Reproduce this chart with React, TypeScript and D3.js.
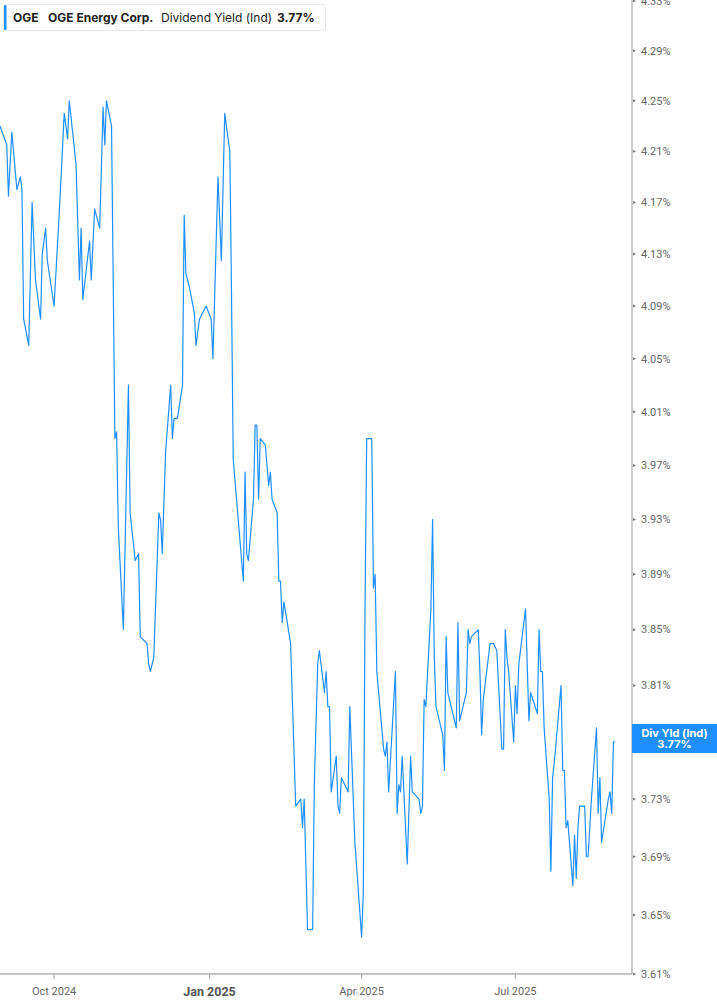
import { useEffect } from "react";
import * as d3 from "d3";

// daily-ish dividend yield readings
const dates = [
  "2024-08-30", "2024-09-03", "2024-09-04", "2024-09-06", "2024-09-09", "2024-09-11", "2024-09-12", "2024-09-13",
  "2024-09-16", "2024-09-18", "2024-09-20", "2024-09-23", "2024-09-24", "2024-09-26", "2024-09-27", "2024-10-01",
  "2024-10-04", "2024-10-07", "2024-10-09", "2024-10-10", "2024-10-14", "2024-10-16", "2024-10-17", "2024-10-18",
  "2024-10-22", "2024-10-23", "2024-10-25", "2024-10-28", "2024-10-30", "2024-10-31", "2024-11-01", "2024-11-04",
  "2024-11-06", "2024-11-07", "2024-11-08", "2024-11-11", "2024-11-14", "2024-11-15", "2024-11-18", "2024-11-20",
  "2024-11-21", "2024-11-25", "2024-11-26", "2024-11-27", "2024-11-29", "2024-12-02", "2024-12-03", "2024-12-04",
  "2024-12-06", "2024-12-09", "2024-12-10", "2024-12-11", "2024-12-13", "2024-12-16", "2024-12-17", "2024-12-18",
  "2024-12-20", "2024-12-23", "2024-12-24", "2024-12-26", "2024-12-30", "2025-01-02", "2025-01-03", "2025-01-06",
  "2025-01-08", "2025-01-10", "2025-01-13", "2025-01-14", "2025-01-15", "2025-01-21", "2025-01-22", "2025-01-23",
  "2025-01-24", "2025-01-27", "2025-01-28", "2025-01-29", "2025-01-30", "2025-01-31", "2025-02-03", "2025-02-05",
  "2025-02-06", "2025-02-07", "2025-02-10", "2025-02-11", "2025-02-12", "2025-02-13", "2025-02-14", "2025-02-18",
  "2025-02-19", "2025-02-21", "2025-02-24", "2025-02-25", "2025-02-26", "2025-02-28", "2025-03-03", "2025-03-04",
  "2025-03-06", "2025-03-07", "2025-03-10", "2025-03-11", "2025-03-12", "2025-03-13", "2025-03-14", "2025-03-17",
  "2025-03-18", "2025-03-19", "2025-03-20", "2025-03-24", "2025-03-25", "2025-03-28", "2025-04-01", "2025-04-02",
  "2025-04-03", "2025-04-04", "2025-04-07", "2025-04-08", "2025-04-09", "2025-04-10", "2025-04-14", "2025-04-15",
  "2025-04-16", "2025-04-17", "2025-04-21", "2025-04-22", "2025-04-23", "2025-04-24", "2025-04-25", "2025-04-28",
  "2025-04-30", "2025-05-01", "2025-05-05", "2025-05-06", "2025-05-07", "2025-05-08", "2025-05-09", "2025-05-12",
  "2025-05-13", "2025-05-14", "2025-05-15", "2025-05-19", "2025-05-20", "2025-05-21", "2025-05-22", "2025-05-27",
  "2025-05-28", "2025-05-29", "2025-06-02", "2025-06-03", "2025-06-04", "2025-06-05", "2025-06-09", "2025-06-10",
  "2025-06-11", "2025-06-12", "2025-06-16", "2025-06-17", "2025-06-18", "2025-06-20", "2025-06-23", "2025-06-24",
  "2025-06-25", "2025-06-26", "2025-06-27", "2025-06-30", "2025-07-01", "2025-07-02", "2025-07-03", "2025-07-07",
  "2025-07-09", "2025-07-10", "2025-07-14", "2025-07-15", "2025-07-16", "2025-07-17", "2025-07-18", "2025-07-21",
  "2025-07-22", "2025-07-23", "2025-07-24", "2025-07-28", "2025-07-29", "2025-07-30", "2025-07-31", "2025-08-01",
  "2025-08-04", "2025-08-05", "2025-08-06", "2025-08-07", "2025-08-08", "2025-08-11", "2025-08-12", "2025-08-13",
  "2025-08-15", "2025-08-18", "2025-08-19", "2025-08-20", "2025-08-21", "2025-08-25", "2025-08-26", "2025-08-27",
  "2025-08-28", "2025-08-29",
];

const yields = [
  4.23, 4.215, 4.175, 4.225, 4.18, 4.19, 4.18, 4.08,
  4.06, 4.17, 4.11, 4.08, 4.13, 4.15, 4.125, 4.09,
  4.16, 4.24, 4.22, 4.25, 4.2, 4.11, 4.15, 4.095,
  4.14, 4.11, 4.165, 4.15, 4.245, 4.215, 4.25, 4.23,
  3.99, 3.995, 3.925, 3.85, 4.03, 3.935, 3.9, 3.905,
  3.845, 3.84, 3.825, 3.82, 3.83, 3.935, 3.93, 3.905,
  3.98, 4.03, 3.99, 4.005, 4.005, 4.03, 4.16, 4.115,
  4.105, 4.085, 4.06, 4.08, 4.09, 4.08, 4.05, 4.19,
  4.125, 4.24, 4.21, 4.1, 3.975, 3.885, 3.965, 3.905,
  3.9, 3.945, 4.0, 4.0, 3.945, 3.99, 3.985, 3.955,
  3.965, 3.945, 3.935, 3.885, 3.885, 3.855, 3.87, 3.84,
  3.8, 3.725, 3.73, 3.71, 3.73, 3.64, 3.64, 3.74,
  3.825, 3.835, 3.805, 3.82, 3.795, 3.795, 3.735, 3.76,
  3.725, 3.72, 3.745, 3.735, 3.795, 3.7, 3.635, 3.665,
  3.865, 3.99, 3.99, 3.88, 3.89, 3.82, 3.765, 3.76,
  3.77, 3.735, 3.82, 3.72, 3.74, 3.735, 3.76, 3.685,
  3.76, 3.735, 3.73, 3.72, 3.725, 3.8, 3.795, 3.865,
  3.93, 3.83, 3.795, 3.775, 3.75, 3.845, 3.805, 3.78,
  3.855, 3.785, 3.805, 3.85, 3.84, 3.845, 3.85, 3.82,
  3.775, 3.8, 3.84, 3.84, 3.84, 3.835, 3.765, 3.765,
  3.85, 3.83, 3.82, 3.77, 3.81, 3.79, 3.825, 3.865,
  3.785, 3.805, 3.79, 3.85, 3.82, 3.82, 3.78, 3.73,
  3.68, 3.745, 3.755, 3.81, 3.75, 3.75, 3.71, 3.715,
  3.67, 3.705, 3.675, 3.71, 3.725, 3.725, 3.69, 3.69,
  3.73, 3.78, 3.72, 3.745, 3.7, 3.73, 3.735, 3.72,
  3.77, 3.77,
];

const yTicks = [3.61, 3.65, 3.69, 3.73, 3.77, 3.81, 3.85, 3.89, 3.93, 3.97, 4.01, 4.05, 4.09, 4.13, 4.17, 4.21, 4.25, 4.29, 4.33];
const xTickDates = ["2024-10-01", "2025-01-01", "2025-04-01", "2025-07-01"];
const xTickLabels = ["Oct 2024", "Jan 2025", "Apr 2025", "Jul 2025"];
const xDomain = ["2024-08-30", "2025-09-08"];

const W = 717;
const H = 1005;
const axisX = 632;
const baseY = 974;
const BLUE = "#1f8fff";

const parse = d3.timeParse("%Y-%m-%d");

export default function App() {
  useEffect(() => {
    document.body.style.margin = "0";
  }, []);

  const x = d3
    .scaleTime()
    .domain(xDomain.map((d) => parse(d) as Date))
    .range([0, axisX]);

  // the price axis is logarithmic: tick spacing shrinks upwards
  const y = d3.scaleLog().domain([3.61, 4.33]).range([baseY, 1]);

  const points = dates.map((d, i) => ({ date: parse(d) as Date, value: yields[i] }));
  const line = d3
    .line<{ date: Date; value: number }>()
    .x((d) => x(d.date))
    .y((d) => y(d.value));

  const last = yields[yields.length - 1];
  const fmt = (v: number) => `${v.toFixed(2)}%`;
  const axisFont = "Roboto, 'Liberation Sans', sans-serif";
  const legendFont = "Inter, 'Noto Sans', sans-serif";

  return (
    <svg width={W} height={H} style={{ display: "block" }}>
      <rect width={W} height={H} fill="#fff" />

      <path d={line(points) || ""} fill="none" stroke={BLUE} strokeWidth={1.2} strokeLinejoin="round" />

      {/* right axis; the tick hidden under the value tag is left out */}
      <line x1={axisX} x2={axisX} y1={0} y2={baseY} stroke="#9a9a9a" strokeWidth={1} />
      {yTicks.map((t) => (
        <g key={t} transform={`translate(${axisX},${y(t)})`}>
          <path d="M1,-1.5 L4,0 L1,1.5 Z" fill="#777" />
          {t !== last && (
            <text x={9} dy="0.35em" fontSize={11} fontFamily={axisFont} fill="#666">
              {fmt(t)}
            </text>
          )}
        </g>
      ))}

      {/* bottom axis */}
      <line x1={0} x2={axisX} y1={baseY} y2={baseY} stroke="#b0b0b0" strokeWidth={1.5} />
      {xTickDates.map((d, i) => {
        const px = x(parse(d) as Date);
        const bold = xTickLabels[i].startsWith("Jan");
        return (
          <g key={d} transform={`translate(${px},${baseY})`}>
            <line y1={0} y2={5} stroke="#aaa" strokeWidth={1} />
            <text
              y={bold ? 22 : 21}
              textAnchor="middle"
              fontSize={bold ? 12.5 : 11}
              fontWeight={bold ? 700 : 400}
              fontFamily={axisFont}
              fill={bold ? "#555" : "#666"}
            >
              {xTickLabels[i]}
            </text>
          </g>
        );
      })}

      {/* last value tag */}
      <g transform={`translate(${axisX},${y(last)})`}>
        <rect x={0} y={-18} width={W - axisX} height={29} fill={BLUE} />
        <text x={(W - axisX) / 2} y={-5} textAnchor="middle" fontSize={11} fontWeight={700} fontFamily={legendFont} fill="#fff">
          Div Yld (Ind)
        </text>
        <text x={(W - axisX) / 2} y={6.5} textAnchor="middle" fontSize={11} fontWeight={700} fontFamily={legendFont} fill="#fff">
          {fmt(last)}
        </text>
      </g>

      {/* legend */}
      <g fontFamily={legendFont} fontSize={12} fill="#222">
        <rect x={3.5} y={4.5} width={322} height={26} rx={3} fill="#fff" stroke="#e6e6e6" />
        <rect x={4} y={5} width={2.5} height={25} rx={1} fill={BLUE} />
        <text x={13} y={22} fontWeight={700}>OGE</text>
        <text x={48} y={22} fontWeight={700}>OGE Energy Corp.</text>
        <text x={161} y={22}>Dividend Yield (Ind)</text>
        <text x={277} y={22} fontWeight={700}>{fmt(last)}</text>
      </g>
    </svg>
  );
}
